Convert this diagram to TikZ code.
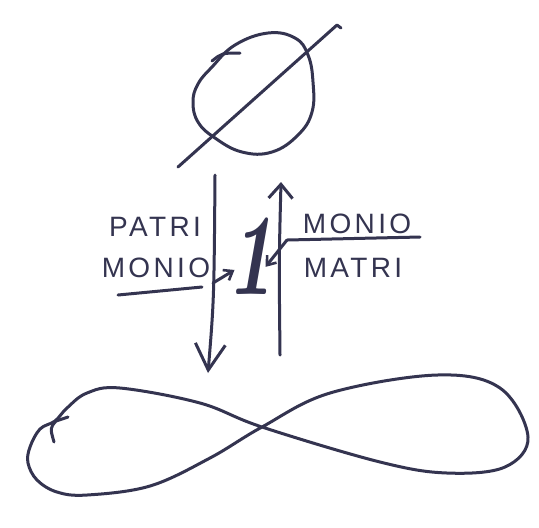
\documentclass[tikz,border=0pt]{standalone}
\usepackage{fontspec}
\newfontfamily\penfont[LetterSpace=12]{Liberation Sans}
\usetikzlibrary{arrows.meta}
\definecolor{ink}{RGB}{52,52,80}

\begin{document}
\begin{tikzpicture}[x=0.5pt, y=-0.5pt, ink, line width=1.5pt, line cap=round, line join=round,
    pen/.style={font=\penfont\fontsize{14}{14}\selectfont, text=ink, inner sep=0pt},
    onebox/.style={font=\fontsize{58}{58}\selectfont\bfseries\itshape, text=ink, inner sep=-5pt},
    downtip/.style={-{Straight Barb[length=13pt, width=15pt, line width=1.5pt]}},
    uptip/.style={-{Straight Barb[length=7pt, width=12pt, line width=1.5pt]}},
    smalltip/.style={-{Straight Barb[length=4pt, width=6pt, line width=1.3pt]}}]
    \fill[white] (0,0) rectangle (539,527);
    \useasboundingbox (0,0) rectangle (539,527);

    % Empty set on top
    \draw plot[smooth cycle, tension=0.7] coordinates {(193,102) (198,84) (212,67) (235,45) (268,33)
                                                      (295,38) (308,55) (313,82) (312,112) (298,135)
                                                      (272,152) (242,152) (215,138) (198,122)};
    \draw (212,61) .. controls (222,53) .. (240,53);
    \draw (178,167) -- (337,25) -- (341,28);

    % Infinity at the bottom
    \draw plot[smooth cycle, tension=0.6] coordinates {(262,427) (330,393) (437,375) (500,388) (528,437)
                                                      (505,467) (447,473) (380,462) (262,427) (200,403)
                                                      (120,388) (87,393) (67,408) (55,421) (40,429)
                                                      (30,447) (28,463) (37,480) (57,492) (87,495)
                                                      (150,486) (210,458)};
    \draw (68,417) -- (56,421) .. controls (50,428) .. (54,442);

    % Labels
    \foreach \name/\x/\y/\label in {patri/155/227/PATRI, monioL/156/268/MONIO,
                                    monioR/357/224/MONIO, matri/353/268/MATRI}
      \node[pen] (\name) at (\x, \y) {\label};
    \node[onebox] (one) at (250,256) {\scalebox{0.7}[1]{1}};

    % Arrows
    \coordinate (dtop) at (215,175);
    \coordinate (dbot) at (208,373);
    \coordinate (ubot) at (280,355);
    \coordinate (utop) at (281,182);
    \coordinate (lfoot) at (213,283);
    \coordinate (rfoot) at (287,240);
    \draw[downtip] (dtop) .. controls (214,300) .. (dbot);
    \draw[uptip] (ubot) .. controls (279,260) .. (utop);
    \draw (118,295) -- (202,287);
    \draw (420,237) -- (rfoot);
    \draw[smalltip] (lfoot) -- (one.222);
    \draw[smalltip] (rfoot) -- (one.-35);
  \end{tikzpicture}
\end{document}
